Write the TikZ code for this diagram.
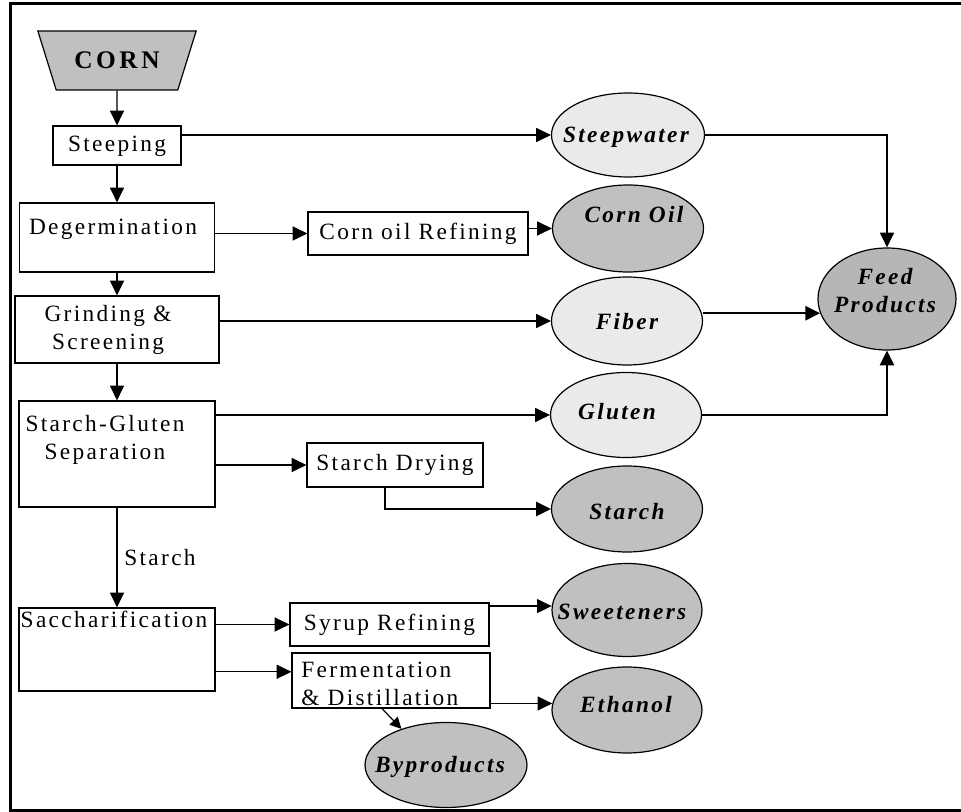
\documentclass[tikz,border=0pt]{standalone}
\usepackage{fontspec}
\setmainfont{Liberation Serif}
\newfontfamily\spacedfont[LetterSpace=10]{Liberation Serif}
\newfontfamily\cornfont[LetterSpace=14]{Liberation Serif}
\usetikzlibrary{shapes.geometric,arrows.meta}
\definecolor{lightprod}{RGB}{234,234,234}
\definecolor{darkprod}{RGB}{192,192,192}
\definecolor{feedprod}{RGB}{182,182,182}

\begin{document}
\begin{tikzpicture}[x=0.75pt,y=0.75pt,yscale=-1,xscale=1,
    box/.style={draw, rectangle, inner sep=0pt, line width=0.9pt},
    prod/.style={draw, ellipse, inner sep=0pt, line width=0.9pt},
    txt/.style={inner sep=0pt, font={\spacedfont\fontsize{17.5}{21}\selectfont}, text height=12pt, text depth=3.5pt},
    mtxt/.style={inner sep=0pt, font={\spacedfont\fontsize{17.5}{21}\selectfont}},
    ptxt/.style={inner sep=0pt, font={\spacedfont\bfseries\itshape\fontsize{17.5}{21}\selectfont}, text height=12pt, text depth=3.5pt},
    flow/.style={line width=0.9pt, -{Triangle[length=11pt,width=10.5pt]}},
    heavy/.style={line width=1.8pt, -{Triangle[length=11pt,width=10.5pt]}},
    minor/.style={line width=0.9pt, -{Triangle[length=8.5pt,width=8.5pt]}}]
    \useasboundingbox (0,0) rectangle (961,812);

    %Frame
    \draw[line width=2.25pt] (961,4) -- (10,4) -- (10,810) -- (961,810);

    %Shape: Trapezoid
    \node[draw, fill=darkprod, trapezium, shape border rotate=180, trapezium left angle=56, trapezium right angle=56, trapezium stretches=true, minimum width=119.25pt, minimum height=44.25pt, inner sep=1pt, line width=0.9pt, font={\cornfont\bfseries\fontsize{19}{22}\selectfont}] (corn) at (117,60.5) {CORN};

    %Shape: Rectangle
    \node[box, txt, minimum width=96pt, minimum height=29.25pt] (steep) at (117,145.5) {Steeping};
    %Shape: Rectangle
    \node[box, minimum width=146.25pt, minimum height=51.75pt] (degerm) at (117,237.5) {};
    % Text Node
    \node[txt] (degermtxt) at (113,229) {Degermination};
    %Shape: Rectangle
    \node[box, txt, minimum width=165pt, minimum height=32.25pt] (corf) at (418,233.5) {Corn oil Refining};
    %Shape: Rectangle
    \node[box, minimum width=153pt, minimum height=50.25pt] (grind) at (117,329.5) {};
    % Text Node
    \node[mtxt, align=center] (grindtxt) at (108,330) {Grinding \&\\Screening};
    %Shape: Rectangle
    \node[box, minimum width=147pt, minimum height=79.5pt] (sg) at (117,454) {};
    % Text Node
    \node[mtxt, align=center] (sgtxt) at (105,440) {Starch-Gluten\\Separation};
    %Shape: Rectangle
    \node[box, txt, minimum width=132pt, minimum height=33pt] (sdry) at (395,465) {Starch Drying};
    %Shape: Rectangle
    \node[box, minimum width=147pt, minimum height=62.25pt] (sacch) at (117,649.5) {};
    % Text Node
    \node[txt] (sacchtxt) at (114,622) {Saccharification};
    %Shape: Rectangle
    \node[box, txt, minimum width=149.25pt, minimum height=32.25pt] (syrup) at (389.5,624.5) {Syrup Refining};
    %Shape: Rectangle
    \node[box, minimum width=148.5pt, minimum height=41.25pt] (ferm) at (391,680.5) {};
    % Text Node
    \node[mtxt, align=left, anchor=west] (fermtxt) at (301,683.5) {Fermentation\\\& Distillation};
    % Text Node
    \node[txt] (starchlbl) at (160,560) {Starch};

    %Shape: Ellipse
    \node[prod, fill=lightprod, minimum width=114.75pt, minimum height=63pt] (steepw) at (628,135) {};
    \node[ptxt] (steepwtxt) at (626,137) {Steepwater};
    %Shape: Ellipse
    \node[prod, fill=darkprod, minimum width=113.25pt, minimum height=65.25pt] (coil) at (628,228.5) {};
    \node[ptxt] (coiltxt) at (634,217) {Corn Oil};
    %Shape: Ellipse
    \node[prod, fill=lightprod, minimum width=113.25pt, minimum height=66pt] (fiber) at (627,321) {};
    \node[ptxt] (fibertxt) at (627,324) {Fiber};
    %Shape: Ellipse
    \node[prod, fill=lightprod, minimum width=113.25pt, minimum height=63.75pt] (gluten) at (626,415) {};
    \node[ptxt] (glutentxt) at (617,414) {Gluten};
    %Shape: Ellipse
    \node[prod, fill=darkprod, minimum width=113.25pt, minimum height=64.5pt] (starch) at (627,509) {};
    \node[ptxt] (starchtxt) at (627,514) {Starch};
    %Shape: Ellipse
    \node[prod, fill=darkprod, minimum width=112.5pt, minimum height=69.75pt] (sweet) at (627,610) {};
    \node[ptxt] (sweettxt) at (622,614) {Sweeteners};
    %Shape: Ellipse
    \node[prod, fill=darkprod, minimum width=112.5pt, minimum height=64.5pt] (ethanol) at (627,710) {};
    \node[ptxt] (ethanoltxt) at (626,707) {Ethanol};
    %Shape: Ellipse
    \node[prod, fill=darkprod, minimum width=121.5pt, minimum height=63.75pt] (byprod) at (446,765) {};
    \node[ptxt] (byprodtxt) at (440,767) {Byproducts};
    %Shape: Ellipse
    \node[prod, fill=feedprod, minimum width=103.5pt, minimum height=76.5pt] (feed) at (887,299) {};
    \node[inner sep=0pt, font={\spacedfont\bfseries\itshape\fontsize{17.5}{21}\selectfont}, align=center] (feedtxt) at (885,291) {Feed\\Products};

    %Straight Lines
    \draw[flow] (corn.south) -- (steep.north);
    \draw[flow] (steep.south) -- (degerm.north);
    \draw[flow] (degerm.south) -- (grind.north);
    \draw[flow] (grind.south) -- (sg.north);
    \draw[flow] (sg.south) -- (sacch.north);
    \draw[flow] (steep.east |- steepw.west) -- (steepw.west);
    \draw[flow] (steepw.east) -| (feed.north);
    \draw[flow] (degerm.east |- corf.west) -- (corf.west);
    \draw[flow] (corf.east |- coil.west) -- (coil.west);
    \draw[flow] (grind.east |- fiber.west) -- (fiber.west);
    \draw[heavy] (fiber.east |- feed.192) -- (feed.192);
    \draw[flow] (sg.east |- gluten.west) -- (gluten.west);
    \draw[heavy] (gluten.east) -| (feed.south);
    \draw[flow] (sg.east |- sdry.west) -- (sdry.west);
    \draw[heavy] ([xshift=-7.5pt]sdry.south) |- (starch.west);
    \draw[flow] (sacch.east |- syrup.west) -- (syrup.west);
    \draw[flow] (sacch.east |- ferm.175.5) -- (ferm.175.5);
    \draw[flow] (syrup.east |- sweet.177) -- (sweet.177);
    \draw[flow] (ferm.east |- ethanol.175) -- (ethanol.175);
    \draw[minor] ([xshift=-6.75pt]ferm.south) -- (byprod.141);

\end{tikzpicture}
\end{document}
